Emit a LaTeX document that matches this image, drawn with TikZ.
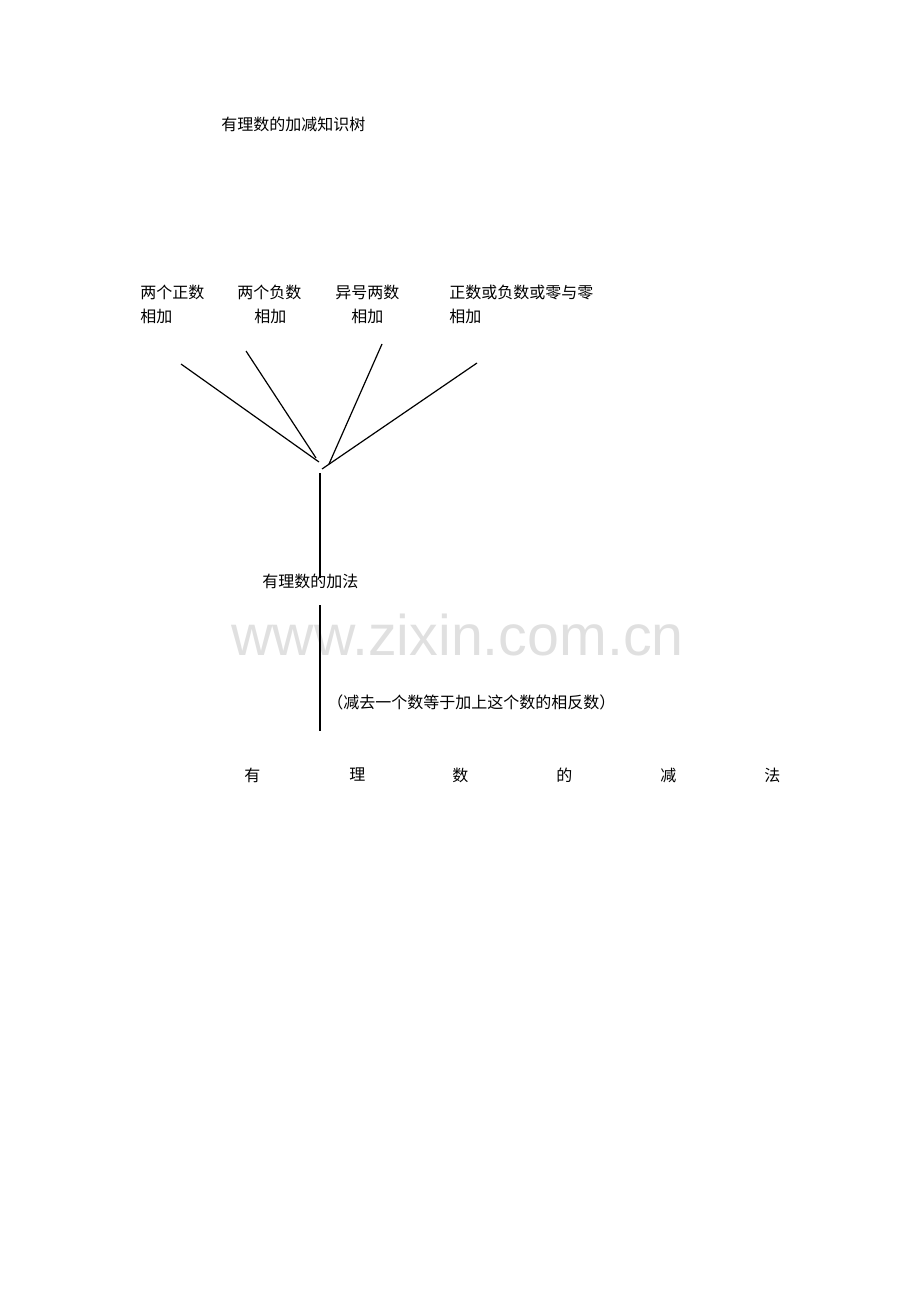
\documentclass[tikz,border=0pt]{standalone}
\usepackage{fontspec}
\setmainfont{Liberation Serif}
\newfontfamily\cjk{Noto Sans CJK SC}
\newfontfamily\wmfont{Liberation Sans}
\definecolor{wmgray}{RGB}{224,224,224}
\begin{document}
\begin{tikzpicture}[x=0.75pt,y=-0.75pt,
  lbl/.style={anchor=west,inner sep=0pt,font=\cjk\fontsize{12pt}{14pt}\selectfont},
  branch/.style={draw,line width=0.9pt}]
\useasboundingbox (0,0) rectangle (920,1302);
% watermark
\node[anchor=west,inner sep=0pt,text=wmgray,font=\wmfont\fontsize{43pt}{50pt}\selectfont] (wm) at (231,635) {www.zixin.com.cn};
% title
\node[lbl] (title) at (221,124) {有理数的加减知识树};
% labels
\node[lbl] (a1) at (140,292) {两个正数};
\node[lbl] (a2) at (140,316) {相加};
\node[lbl] (b1) at (237,292) {两个负数};
\node[lbl] (b2) at (254,316) {相加};
\node[lbl] (c1) at (335,292) {异号两数};
\node[lbl] (c2) at (351,316) {相加};
\node[lbl] (d1) at (449,292) {正数或负数或零与零};
\node[lbl] (d2) at (449,316) {相加};
% branch coordinates
\coordinate (s1) at (181,364); \coordinate (e1) at (319,462);
\coordinate (s2) at (246,351); \coordinate (e2) at (316,458);
\coordinate (s3) at (382,344); \coordinate (e3) at (329,464);
\coordinate (s4) at (477,363); \coordinate (e4) at (322,469);
\draw[branch] (s1) -- (e1);
\draw[branch] (s2) -- (e2);
\draw[branch] (s3) -- (e3);
\draw[branch] (s4) -- (e4);
% trunk
\coordinate (t1) at (320,473); \coordinate (t2) at (320,578);
\draw[branch] (t1) -- (t2);
\node[lbl] (add) at (262,581) {有理数的加法};
\coordinate (u1) at (320,605); \coordinate (u2) at (320,731);
\draw[branch] (u1) -- (u2);
\node[lbl] (note) at (327,702) {（减去一个数等于加上这个数的相反数）};
% bottom spaced title
\node[lbl] (w1) at (244,775) {有};
\node[lbl] (w2) at (349,775) {理};
\node[lbl] (w3) at (452,775) {数};
\node[lbl] (w4) at (556,775) {的};
\node[lbl] (w5) at (660,775) {减};
\node[lbl] (w6) at (764,775) {法};
\end{tikzpicture}
\end{document}
